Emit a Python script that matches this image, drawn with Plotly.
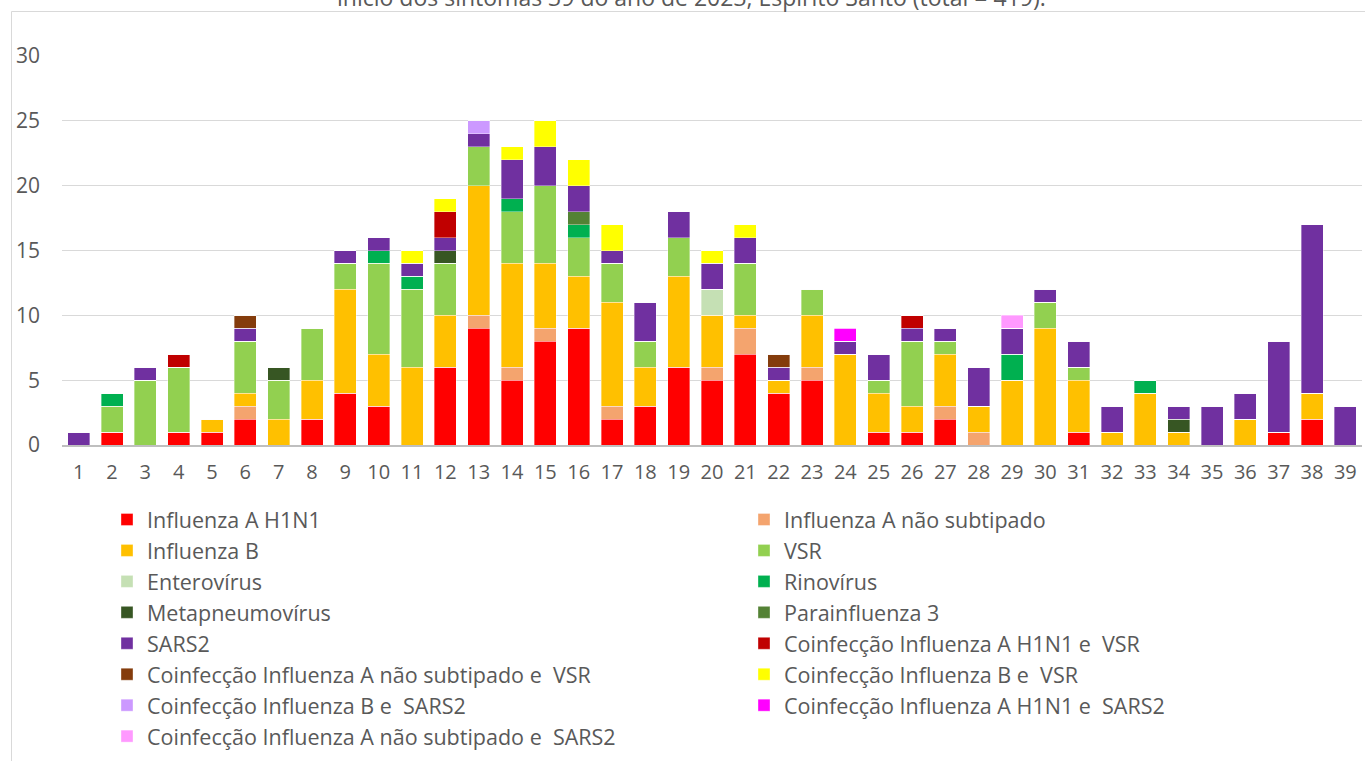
import plotly.graph_objects as go

weeks = [str(i) for i in range(1, 40)]

series_names = [
    "Influenza A H1N1",
    "Influenza A não subtipado",
    "Influenza B",
    "VSR",
    "Enterovírus",
    "Rinovírus",
    "Metapneumovírus",
    "Parainfluenza 3",
    "SARS2",
    "Coinfecção Influenza A H1N1 e  VSR",
    "Coinfecção Influenza A não subtipado e  VSR",
    "Coinfecção Influenza B e  VSR",
    "Coinfecção Influenza B e  SARS2",
    "Coinfecção Influenza A H1N1 e  SARS2",
    "Coinfecção Influenza A não subtipado e  SARS2",
]

#                1  2  3  4  5  6  7  8  9 10 11 12 13 14 15 16 17 18 19 20 21 22 23 24 25 26 27 28 29 30 31 32 33 34 35 36 37 38 39
h1n1 =          [0, 1, 0, 1, 1, 2, 0, 2, 4, 3, 0, 6, 9, 5, 8, 9, 2, 3, 6, 5, 7, 4, 5, 0, 1, 1, 2, 0, 0, 0, 1, 0, 0, 0, 0, 0, 1, 2, 0]
flu_a_ns =      [0, 0, 0, 0, 0, 1, 0, 0, 0, 0, 0, 0, 1, 1, 1, 0, 1, 0, 0, 1, 2, 0, 1, 0, 0, 0, 1, 1, 0, 0, 0, 0, 0, 0, 0, 0, 0, 0, 0]
flu_b =         [0, 0, 0, 0, 1, 1, 2, 3, 8, 4, 6, 4, 10, 8, 5, 4, 8, 3, 7, 4, 1, 1, 4, 7, 3, 2, 4, 2, 5, 9, 4, 1, 4, 1, 0, 2, 0, 2, 0]
vsr =           [0, 2, 5, 5, 0, 4, 3, 4, 2, 7, 6, 4, 3, 4, 6, 3, 3, 2, 3, 0, 4, 0, 2, 0, 1, 5, 1, 0, 0, 2, 1, 0, 0, 0, 0, 0, 0, 0, 0]
enterovirus =   [0, 0, 0, 0, 0, 0, 0, 0, 0, 0, 0, 0, 0, 0, 0, 0, 0, 0, 0, 2, 0, 0, 0, 0, 0, 0, 0, 0, 0, 0, 0, 0, 0, 0, 0, 0, 0, 0, 0]
rinovirus =     [0, 1, 0, 0, 0, 0, 0, 0, 0, 1, 1, 0, 0, 1, 0, 1, 0, 0, 0, 0, 0, 0, 0, 0, 0, 0, 0, 0, 2, 0, 0, 0, 1, 0, 0, 0, 0, 0, 0]
metapneumo =    [0, 0, 0, 0, 0, 0, 1, 0, 0, 0, 0, 1, 0, 0, 0, 0, 0, 0, 0, 0, 0, 0, 0, 0, 0, 0, 0, 0, 0, 0, 0, 0, 0, 1, 0, 0, 0, 0, 0]
parainf3 =      [0, 0, 0, 0, 0, 0, 0, 0, 0, 0, 0, 0, 0, 0, 0, 1, 0, 0, 0, 0, 0, 0, 0, 0, 0, 0, 0, 0, 0, 0, 0, 0, 0, 0, 0, 0, 0, 0, 0]
sars2 =         [1, 0, 1, 0, 0, 1, 0, 0, 1, 1, 1, 1, 1, 3, 3, 2, 1, 3, 2, 2, 2, 1, 0, 1, 2, 1, 1, 3, 2, 1, 2, 2, 0, 1, 3, 2, 7, 13, 3]
co_h1n1_vsr =   [0, 0, 0, 1, 0, 0, 0, 0, 0, 0, 0, 2, 0, 0, 0, 0, 0, 0, 0, 0, 0, 0, 0, 0, 0, 1, 0, 0, 0, 0, 0, 0, 0, 0, 0, 0, 0, 0, 0]
co_ans_vsr =    [0, 0, 0, 0, 0, 1, 0, 0, 0, 0, 0, 0, 0, 0, 0, 0, 0, 0, 0, 0, 0, 1, 0, 0, 0, 0, 0, 0, 0, 0, 0, 0, 0, 0, 0, 0, 0, 0, 0]
co_b_vsr =      [0, 0, 0, 0, 0, 0, 0, 0, 0, 0, 1, 1, 0, 1, 2, 2, 2, 0, 0, 1, 1, 0, 0, 0, 0, 0, 0, 0, 0, 0, 0, 0, 0, 0, 0, 0, 0, 0, 0]
co_b_sars2 =    [0, 0, 0, 0, 0, 0, 0, 0, 0, 0, 0, 0, 1, 0, 0, 0, 0, 0, 0, 0, 0, 0, 0, 0, 0, 0, 0, 0, 0, 0, 0, 0, 0, 0, 0, 0, 0, 0, 0]
co_h1n1_sars2 = [0, 0, 0, 0, 0, 0, 0, 0, 0, 0, 0, 0, 0, 0, 0, 0, 0, 0, 0, 0, 0, 0, 0, 1, 0, 0, 0, 0, 0, 0, 0, 0, 0, 0, 0, 0, 0, 0, 0]
co_ans_sars2 =  [0, 0, 0, 0, 0, 0, 0, 0, 0, 0, 0, 0, 0, 0, 0, 0, 0, 0, 0, 0, 0, 0, 0, 0, 0, 0, 0, 0, 1, 0, 0, 0, 0, 0, 0, 0, 0, 0, 0]

series_values = [h1n1, flu_a_ns, flu_b, vsr, enterovirus, rinovirus, metapneumo,
                 parainf3, sars2, co_h1n1_vsr, co_ans_vsr, co_b_vsr, co_b_sars2,
                 co_h1n1_sars2, co_ans_sars2]

colors = ["#FF0000", "#F4A46E", "#FFC000", "#92D050", "#C5E0B4", "#00B050",
          "#375623", "#548235", "#7030A0", "#C00000", "#843C0C", "#FFFF00",
          "#CC99FF", "#FF00FF", "#FF99FF"]

title_text = "início dos sintomas 39 do ano de 2023, Espírito Santo (total = 419)."

FONT = "Open Sans"
TXT = "#595959"

fig = go.Figure()
for name, vals, col in zip(series_names, series_values, colors):
    fig.add_trace(go.Bar(
        x=weeks, y=vals, name=name,
        marker=dict(color=col, line=dict(color="rgba(255,255,255,0.45)", width=0.8)),
    ))

W, H = 1365, 761
L, R, T, B = 62, 3, 56, 316
pw = W - L - R
ph = H - T - B

def px_x(x):
    return (x - L) / pw

def px_y(y):
    return (H - B - y) / ph

fig.update_layout(
    width=W, height=H,
    margin=dict(l=L, r=R, t=T, b=B, pad=0, autoexpand=False),
    barmode="stack",
    bargap=0.34,
    plot_bgcolor="white",
    paper_bgcolor="white",
    font=dict(family=FONT, color=TXT),
    xaxis=dict(
        type="category",
        showgrid=False,
        showline=True, linecolor="#BFBFBF", linewidth=1.5,
        ticks="", tickfont=dict(size=20, color=TXT),
        ticklabelstandoff=8,
    ),
    yaxis=dict(
        range=[0, 30],
        dtick=5,
        showgrid=True, gridcolor="#D9D9D9", gridwidth=1,
        zeroline=False, showline=False,
        ticks="", tickfont=dict(size=21, color=TXT),
        ticklabelstandoff=21,
    ),
    legend=dict(
        orientation="h",
        x=px_x(107), y=px_y(499),
        xanchor="left", yanchor="top",
        entrywidth=592, entrywidthmode="pixels",
        font=dict(size=21.5, color=TXT, family=FONT),
        bgcolor="rgba(0,0,0,0)",
        traceorder="normal",
    ),
    shapes=[dict(
        type="rect", xref="paper", yref="paper",
        x0=px_x(11.5), y0=px_y(11.5), x1=px_x(1400), y1=px_y(800),
        line=dict(color="#D9D9D9", width=1), fillcolor="rgba(0,0,0,0)", layer="below",
    )],
    annotations=[dict(
        text=title_text, xref="paper", yref="paper",
        x=px_x(691), y=px_y(-3), xanchor="center", yanchor="middle",
        showarrow=False, font=dict(size=23, color=TXT, family=FONT),
    )],
)

fig.write_html(
    "out.html",
    config={"displayModeBar": False},
    post_script="document.body.style.margin='0';document.body.style.overflow='hidden';",
)
